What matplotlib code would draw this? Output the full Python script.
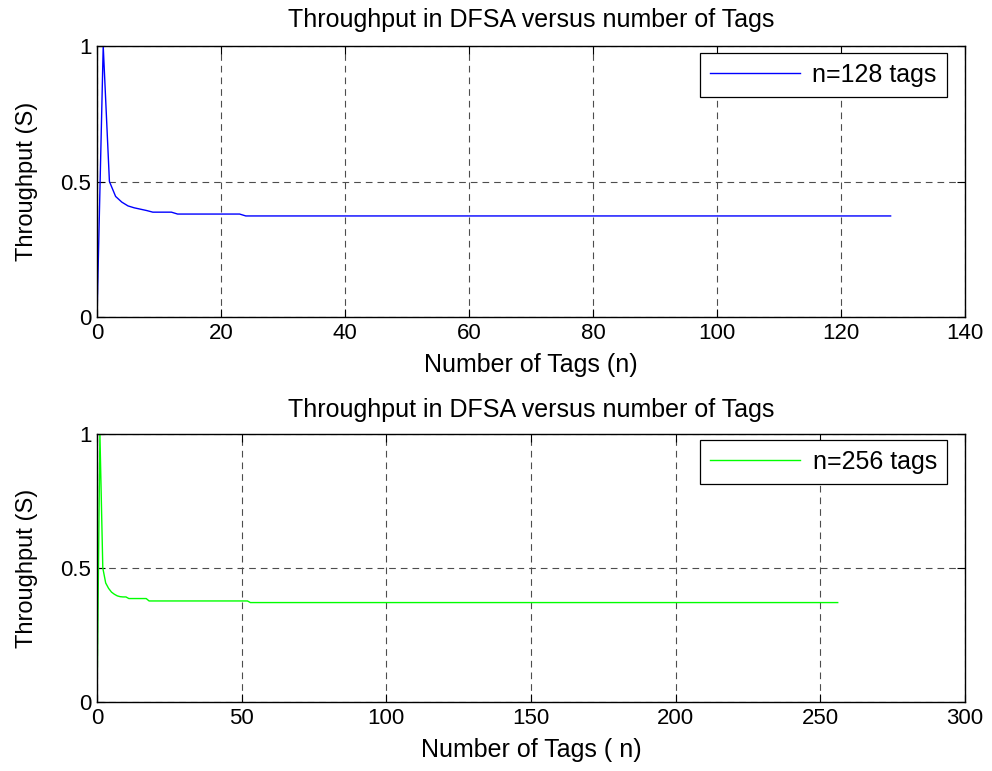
"""DFSA throughput vs number of tags (two panels)"""
import matplotlib
matplotlib.use("Agg")
import matplotlib.pyplot as plt

# ── data ──
# n = 128 tags
top_head = [0, 1, 0.5, 0.445, 0.424, 0.410, 0.403, 0.398, 0.393, 0.387, 0.387, 0.387, 0.387]
top_mid = [0.380] * 11      # n = 13..23
top_tail = [0.373] * 105    # n = 24..128
top_tp = top_head + top_mid + top_tail
top_n = list(range(len(top_tp)))

# n = 256 tags
bot_head = [0, 1, 0.5, 0.444, 0.424, 0.410, 0.402, 0.396, 0.393, 0.392, 0.392]
bot_mid1 = [0.386] * 7      # n = 11..17
bot_mid2 = [0.377] * 35     # n = 18..52
bot_tail = [0.371] * 204    # n = 53..256
bot_tp = bot_head + bot_mid1 + bot_mid2 + bot_tail
bot_n = list(range(len(bot_tp)))

title = "Throughput in DFSA versus number of Tags"
top_xticks = [0, 20, 40, 60, 80, 100, 120, 140]
bot_xticks = [0, 50, 100, 150, 200, 250, 300]
yticks = [0, 0.5, 1]
ytick_labels = ["0", "0.5", "1"]

plt.rcParams.update({
    "font.family": ["Liberation Sans", "DejaVu Sans"],
    "axes.linewidth": 1.0,
})

fig = plt.figure(figsize=(9.92, 7.71), dpi=100)
fig.patch.set_facecolor("white")

panels = [
    # rect, x, y, colour, legend label, xticks, xmax, xlabel, title pad, legend anchor
    ([0.0978, 0.5888, 0.875, 0.3515], top_n, top_tp, "#0000ff", "n=128 tags",
     top_xticks, 140, "Number of Tags (n)", 14, (0.979, 0.974)),
    ([0.0978, 0.0895, 0.875, 0.3476], bot_n, bot_tp, "#00ff00", "n=256 tags",
     bot_xticks, 300, "Number of Tags ( n)", 12, (0.979, 0.978)),
]

for rect, xs, ys, col, lab, xt, xmax, xlab, tpad, anchor in panels:
    ax = fig.add_axes(rect)
    ax.plot(xs, ys, color=col, linewidth=1.0, label=lab)
    ax.set_xlim(0, xmax)
    ax.set_ylim(0, 1)
    ax.set_xticks(xt)
    ax.set_yticks(yticks)
    ax.set_yticklabels(ytick_labels)
    ax.grid(True, color="0.3", linestyle=(0, (6, 4.5)), linewidth=0.8)
    ax.tick_params(direction="in", length=6, width=0.8, top=True, right=True,
                   labelsize=16, pad=4)
    ax.set_xlabel(xlab, fontsize=18, labelpad=7)
    ax.set_ylabel("Throughput (S)", fontsize=17, labelpad=16)
    ax.set_title(title, fontsize=18, pad=tpad)
    for s in ax.spines.values():
        s.set_color("black")
    leg = ax.legend(loc="upper right", bbox_to_anchor=anchor, borderaxespad=0,
                    fontsize=18, fancybox=False, framealpha=1, edgecolor="black",
                    handlelength=3.6, handletextpad=0.5, borderpad=0.4)
    leg.get_frame().set_linewidth(0.9)

plt.savefig("out.png", dpi=100)
plt.close()
